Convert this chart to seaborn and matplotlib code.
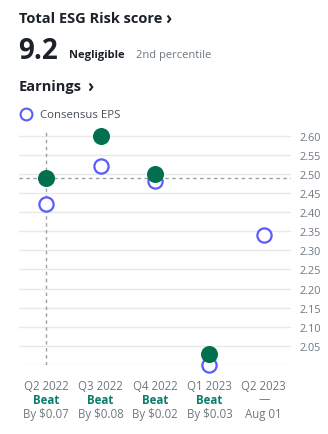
import matplotlib
matplotlib.use("Agg")
import matplotlib.pyplot as plt
import seaborn as sns
import pandas as pd
import numpy as np

quarters = ["Q2 2022", "Q3 2022", "Q4 2022", "Q1 2023", "Q2 2023"]
estimate = [2.42, 2.52, 2.48, 2.00, 2.34]
actual = [2.49, 2.60, 2.50, 2.03, None]
result = ["Beat", "Beat", "Beat", "Beat", "—"]
detail = ["By $0.07", "By $0.08", "By $0.02", "By $0.03", "Aug 01"]
yticks = [2.00, 2.05, 2.10, 2.15, 2.20, 2.25, 2.30, 2.35, 2.40, 2.45, 2.50, 2.55, 2.60]
ytick_labels = ["", "2.05", "2.10", "2.15", "2.20", "2.25", "2.30", "2.35", "2.40", "2.45", "2.50", "2.55", "2.60"]
crosshair_value = 2.49

sns.set_theme(style="white")
plt.rcParams['font.family'] = ['Open Sans', 'DejaVu Sans']

GREEN = "#00704f"
BLUE = "#5a5cff"
GRAY = "#6e7780"
DARK = "#1d2228"
TEAL = "#0b7d6b"

df = pd.DataFrame({"quarter": quarters, "estimate": estimate,
                   "actual": [np.nan if v is None else v for v in actual]})

W, H = 328, 435
fig = plt.figure(figsize=(W / 100, H / 100), dpi=100)
ax = fig.add_axes([19 / W, (H - 366) / H, (291 - 19) / W, (366 - 127) / H])

ymin, ymax = 2.0, 2.625
ax.set_ylim(ymin, ymax)
ax.set_xlim(-0.5, len(quarters) - 0.5)

for t in yticks:
    ax.axhline(t, color="#e6e9ed", lw=1.0, zorder=0)
ax.axhline(crosshair_value, color="#9aa0a6", lw=1.0, ls=(0, (2.5, 2.5)), zorder=1)
ax.plot([0, 0], [ymin, 2.61], color="#9aa0a6", lw=1.0, ls=(0, (2.5, 2.5)), zorder=1)

sns.scatterplot(data=df, x="quarter", y="estimate", ax=ax, s=105, marker="o",
                facecolor="white", edgecolor=BLUE, linewidth=1.6, zorder=3, legend=False,
                clip_on=False)
sns.scatterplot(data=df.dropna(), x="quarter", y="actual", ax=ax, s=150, marker="o",
                color=GREEN, edgecolor=GREEN, linewidth=0, zorder=4, legend=False,
                clip_on=False)
ax.set_xlim(-0.5, len(quarters) - 0.5)
ax.set_ylim(ymin, ymax)

ax.yaxis.tick_right()
ax.set_yticks(yticks)
ax.set_yticklabels(ytick_labels, fontsize=7.8, color=GRAY)
ax.tick_params(axis="y", length=0, pad=6)
ax.set_xticks([])
ax.set_xlabel("")
ax.set_ylabel("")
for s in ax.spines.values():
    s.set_visible(False)
ax.set_facecolor("none")

# x labels below axis
for i, (q, r, d) in enumerate(zip(quarters, result, detail)):
    xf = ax.transData.transform((i, 0))[0] / (W)
    fig.text(xf, 1 - 387 / H, q, ha="center", va="center", fontsize=8.3, color=GRAY)
    if r == "Beat":
        fig.text(xf, 1 - 401 / H, r, ha="center", va="center", fontsize=8.3,
                 color=TEAL, fontweight="bold")
    else:
        fig.text(xf, 1 - 400 / H, r, ha="center", va="center", fontsize=8.3, color=GRAY)
    fig.text(xf, 1 - 415 / H, d, ha="center", va="center", fontsize=8.3, color=GRAY)

# header texts
fig.text(19 / W, 1 - 23 / H, "Total ESG Risk score", fontsize=10.5, fontweight="bold",
         color=DARK, va="baseline")
fig.text(165 / W, 1 - 24 / H, "›", fontsize=12, fontweight="bold", color=DARK, va="baseline")
fig.text(18 / W, 1 - 59 / H, "9.2", fontsize=20, fontweight="bold", color=DARK, va="baseline")
fig.text(69 / W, 1 - 58 / H, "Negligible", fontsize=8, fontweight="bold", color=DARK, va="baseline")
fig.text(136 / W, 1 - 58 / H, "2nd percentile", fontsize=8, color=GRAY, va="baseline")
fig.text(19 / W, 1 - 91 / H, "Earnings", fontsize=10.5, fontweight="bold", color=DARK, va="baseline")
fig.text(87 / W, 1 - 92 / H, "›", fontsize=12, fontweight="bold", color=DARK, va="baseline")

# legend
fig.lines.append(plt.Line2D([26 / W], [1 - 115 / H], marker="o", markersize=8.5,
                            markerfacecolor="white", markeredgecolor=BLUE, markeredgewidth=1.5,
                            transform=fig.transFigure))
fig.text(40 / W, 1 - 115 / H, "Consensus EPS", fontsize=8.2, color="#464e56", va="center")

fig.savefig("out.png", dpi=100, facecolor="white")
